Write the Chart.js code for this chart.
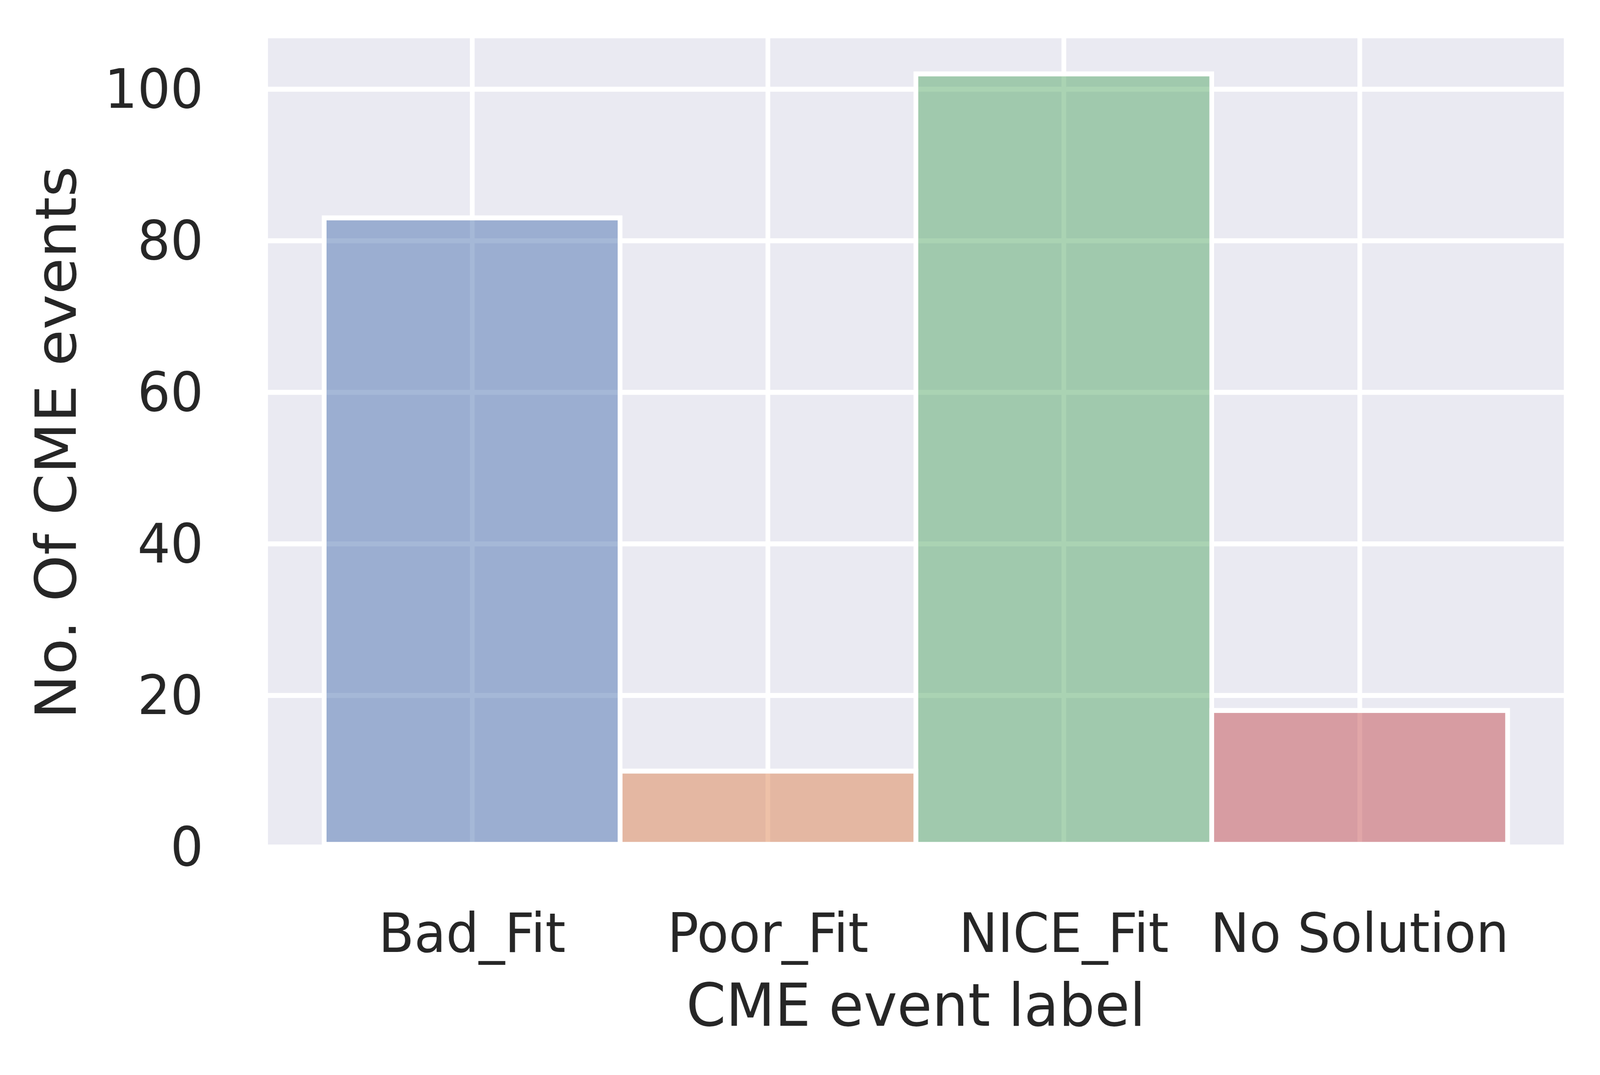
<!DOCTYPE html>
<html>
<head>
<meta charset="utf-8">
<script src="https://cdn.jsdelivr.net/npm/chart.js@4.4.1/dist/chart.umd.min.js"></script>
<style>
  html, body { margin: 0; padding: 0; background: #ffffff; overflow: hidden; }
  canvas { display: block; }
</style>
</head>
<body>
<canvas id="myChart" width="4287" height="2752"></canvas>
<script>
// data
var categories = ['Bad_Fit', 'Poor_Fit', 'NICE_Fit', 'No Solution'];
var counts = [83, 10, 102, 18];
var xTicks = [0, 1, 2, 3];
var yTicks = [0, 20, 40, 60, 80, 100];
var yMax = 106.7;

// seaborn "deep" colours at alpha 0.5
var barColors = [
    'rgba(76, 114, 176, 0.5)',
    'rgba(221, 132, 82, 0.5)',
    'rgba(85, 168, 104, 0.5)',
    'rgba(196, 78, 82, 0.5)'
];

var textColor = '#262626';
var lineW = 12.7;

// drawn at 4287 x 2752, shown at whatever the window really is
var canvas = document.getElementById('myChart');
canvas.style.width = window.innerWidth + 'px';
canvas.style.height = window.innerHeight + 'px';

// plot background behind the grid
var plotBackground = {
    id: 'plotBackground',
    beforeDraw: function (chart) {
        var a = chart.chartArea;
        var ctx = chart.ctx;
        ctx.save();
        ctx.fillStyle = '#EAEAF2';
        ctx.fillRect(a.left, a.top, a.right - a.left, a.bottom - a.top);
        ctx.restore();
    }
};

// white edge centred on each bar outline, like matplotlib
var barEdges = {
    id: 'barEdges',
    afterDatasetsDraw: function (chart) {
        var ctx = chart.ctx;
        var meta = chart.getDatasetMeta(0);
        ctx.save();
        ctx.strokeStyle = '#ffffff';
        ctx.lineWidth = lineW;
        meta.data.forEach(function (bar) {
            var p = bar.getProps(['x', 'y', 'base', 'width'], true);
            ctx.strokeRect(p.x - p.width / 2, p.y, p.width, p.base - p.y);
        });
        ctx.restore();
    }
};

function noPadding(scale) {
    scale.paddingTop = 0;
    scale.paddingBottom = 0;
    scale.paddingLeft = 0;
    scale.paddingRight = 0;
}

var chart = new Chart(canvas.getContext('2d'), {
    type: 'bar',
    data: {
        datasets: [{
            data: counts.map(function (v, i) { return { x: xTicks[i], y: v }; }),
            backgroundColor: barColors,
            borderWidth: 0,
            inflateAmount: 0,
            barPercentage: 1,
            categoryPercentage: 1
        }]
    },
    options: {
        responsive: false,
        animation: false,
        devicePixelRatio: 1,
        layout: { padding: { left: 0, right: 97, top: 98, bottom: 0 } },
        plugins: {
            legend: { display: false },
            tooltip: { enabled: false }
        },
        scales: {
            x: {
                type: 'linear',
                offset: false,
                min: -0.69,
                max: 3.69,
                afterBuildTicks: function (scale) {
                    scale.ticks = xTicks.map(function (v) { return { value: v }; });
                },
                afterFit: function (scale) {
                    scale.height = 584;
                    noPadding(scale);
                },
                grid: { color: '#ffffff', lineWidth: lineW, drawTicks: false, offset: false },
                border: { display: false },
                ticks: {
                    autoSkip: false,
                    maxRotation: 0,
                    padding: 149,
                    color: textColor,
                    font: { family: 'DejaVu Sans', size: 139 },
                    callback: function (value) { return categories[value]; }
                },
                title: {
                    display: true,
                    text: 'CME event label',
                    color: textColor,
                    padding: { top: 0, bottom: 74 },
                    font: { family: 'DejaVu Sans', size: 152, lineHeight: 1.2 }
                }
            },
            y: {
                min: 0,
                max: yMax,
                afterBuildTicks: function (scale) {
                    scale.ticks = yTicks.map(function (v) { return { value: v }; });
                },
                afterFit: function (scale) {
                    scale.width = 718;
                    noPadding(scale);
                },
                grid: { color: '#ffffff', lineWidth: lineW, drawTicks: false },
                border: { display: false },
                ticks: {
                    padding: 173,
                    labelOffset: 12,
                    color: textColor,
                    font: { family: 'DejaVu Sans', size: 139 }
                },
                title: {
                    display: true,
                    text: 'No. Of CME events',
                    color: textColor,
                    padding: { top: 72, bottom: 0 },
                    font: { family: 'DejaVu Sans', size: 152, lineHeight: 1.2 }
                }
            }
        }
    },
    plugins: [plotBackground, barEdges]
});
</script>
</body>
</html>
